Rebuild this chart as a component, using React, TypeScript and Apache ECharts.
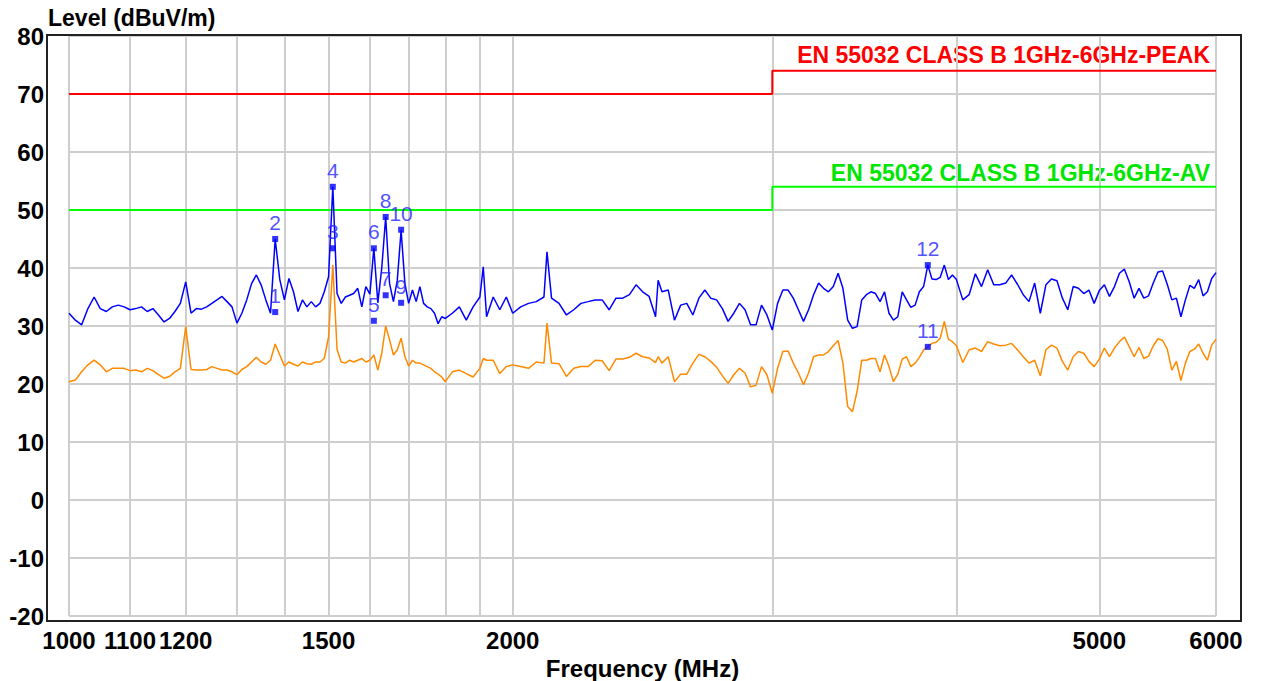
import React, { useEffect, useRef } from "react";
import * as echarts from "echarts";

// Scan frequencies (MHz)
const freqs = [
  1000, 1010, 1020, 1030, 1040, 1050, 1060, 1070, 1080, 1090,
  1100, 1110, 1120, 1130, 1140, 1150, 1160, 1170, 1180, 1190,
  1200, 1210, 1220, 1230, 1240, 1250, 1260, 1270, 1280, 1290,
  1300, 1310, 1320, 1330, 1340, 1350, 1360, 1370, 1380, 1390,
  1400, 1410, 1420, 1430, 1440, 1450, 1460, 1470, 1480, 1490,
  1500, 1510, 1520, 1530, 1540, 1550, 1560, 1570, 1580, 1590,
  1600, 1610, 1620, 1630, 1640, 1650, 1660, 1670, 1680, 1690,
  1700, 1710, 1720, 1730, 1740, 1750, 1760, 1770, 1780, 1790,
  1800, 1820, 1840, 1860, 1880, 1900, 1910, 1920, 1940, 1960,
  1980, 2000, 2025, 2050, 2075, 2100, 2110, 2125, 2150, 2175,
  2200, 2225, 2250, 2275, 2300, 2325, 2350, 2375, 2400, 2425,
  2450, 2475, 2500, 2510, 2525, 2550, 2575, 2600, 2625, 2650,
  2675, 2700, 2725, 2750, 2775, 2800, 2825, 2850, 2875, 2900,
  2925, 2950, 2975, 3000, 3025, 3050, 3075, 3100, 3125, 3150,
  3175, 3200, 3225, 3250, 3275, 3300, 3325, 3350, 3375, 3400,
  3425, 3450, 3475, 3500, 3525, 3550, 3575, 3600, 3625, 3650,
  3675, 3700, 3725, 3750, 3775, 3800, 3825, 3850, 3875, 3900,
  3925, 3950, 3975, 4000, 4040, 4080, 4120, 4160, 4200, 4240,
  4280, 4320, 4360, 4400, 4440, 4480, 4520, 4560, 4600, 4640,
  4680, 4720, 4760, 4800, 4840, 4880, 4920, 4960, 5000, 5040,
  5080, 5120, 5160, 5200, 5240, 5280, 5320, 5360, 5400, 5440,
  5480, 5520, 5560, 5600, 5640, 5680, 5720, 5760, 5800, 5840,
  5880, 5920, 5960, 6000,
];

// Peak trace (dBuV/m)
const peakLevels = [
  32.2, 31.0, 30.2, 33.0, 35.0, 33.0, 32.5, 33.3, 33.6, 33.3,
  32.8, 33.0, 33.3, 32.5, 33.0, 31.9, 30.7, 31.3, 32.5, 33.9,
  37.6, 32.2, 33.0, 32.9, 33.3, 33.9, 34.5, 35.1, 34.2, 33.3,
  30.5, 32.2, 34.5, 37.3, 38.8, 37.1, 34.5, 32.2, 45.0, 38.0,
  34.5, 38.2, 35.9, 32.5, 34.5, 33.3, 34.2, 33.3, 33.9, 35.9,
  38.5, 54.0, 35.6, 33.9, 35.0, 35.3, 35.6, 36.5, 33.3, 36.8,
  35.5, 43.4, 34.0, 40.0, 48.8, 37.3, 34.2, 37.9, 46.5, 37.3,
  33.9, 36.2, 34.2, 36.8, 33.9, 33.3, 33.0, 32.2, 30.4, 31.6,
  31.3, 32.2, 33.3, 31.0, 33.3, 35.0, 40.2, 31.6, 35.0, 32.8,
  35.0, 32.2, 33.3, 33.9, 34.2, 35.0, 42.8, 34.8, 33.9, 31.9,
  32.8, 33.9, 34.2, 34.5, 34.5, 32.8, 34.8, 34.8, 35.4, 37.1,
  35.9, 35.1, 31.6, 37.9, 35.9, 36.2, 31.0, 33.6, 33.9, 31.9,
  34.8, 36.2, 34.8, 34.5, 33.0, 30.8, 32.2, 33.9, 32.8, 30.2,
  30.2, 33.6, 31.9, 29.3, 33.9, 36.2, 36.2, 34.8, 32.8, 30.8,
  32.8, 35.4, 37.4, 36.5, 35.9, 36.8, 39.1, 36.5, 31.0, 29.6,
  29.9, 34.5, 35.4, 35.9, 35.6, 34.2, 35.9, 32.2, 31.0, 31.6,
  35.9, 34.5, 33.2, 33.6, 35.9, 36.8, 40.5, 38.1, 38.0, 38.4,
  40.5, 38.0, 38.8, 38.0, 34.5, 35.4, 39.0, 36.8, 39.7, 37.1,
  37.1, 37.4, 38.8, 37.2, 35.4, 34.2, 37.4, 32.2, 37.1, 38.1,
  37.8, 34.8, 32.8, 36.8, 36.5, 35.6, 36.2, 33.9, 36.1, 37.1,
  35.1, 36.8, 39.1, 39.8, 37.6, 34.8, 36.5, 34.8, 35.2, 37.4,
  39.3, 39.5, 37.2, 34.5, 34.8, 31.6, 34.5, 37.0, 36.5, 38.0,
  35.2, 35.9, 38.2, 39.2,
];

// Average trace (dBuV/m)
const avgLevels = [
  20.4, 20.7, 22.1, 23.3, 24.1, 23.3, 22.1, 22.7, 22.7, 22.7,
  22.3, 22.4, 22.1, 22.7, 22.3, 21.6, 21.0, 21.3, 22.1, 22.7,
  29.9, 22.5, 22.4, 22.4, 22.5, 23.0, 22.7, 22.4, 22.4, 22.1,
  21.6, 22.5, 23.0, 23.8, 24.6, 23.8, 23.4, 24.1, 26.9, 25.0,
  23.1, 23.8, 23.4, 23.1, 23.8, 23.5, 23.4, 23.8, 23.8, 24.4,
  28.1, 40.5, 26.0, 23.8, 23.6, 24.1, 23.8, 24.1, 24.4, 23.8,
  24.1, 25.0, 22.4, 25.3, 30.0, 27.6, 25.0, 25.9, 27.9, 24.7,
  23.1, 24.1, 23.6, 23.6, 23.3, 23.0, 22.7, 22.1, 21.7, 21.2,
  20.4, 22.1, 22.4, 21.8, 21.2, 22.7, 24.4, 24.1, 24.1, 21.8,
  23.0, 23.3, 23.0, 22.7, 23.8, 23.6, 30.5, 23.6, 23.5, 21.3,
  22.7, 23.0, 23.0, 24.1, 24.0, 22.3, 24.3, 24.3, 24.6, 25.3,
  24.7, 24.5, 23.7, 24.7, 23.6, 24.7, 20.4, 21.7, 21.7, 23.6,
  25.1, 24.7, 23.9, 22.9, 21.4, 20.1, 21.6, 22.7, 21.9, 19.5,
  19.8, 23.0, 21.6, 18.4, 22.7, 25.6, 25.7, 23.6, 21.9, 19.9,
  21.9, 24.7, 25.0, 25.0, 25.6, 26.6, 27.5, 23.6, 16.1, 15.2,
  18.7, 24.1, 24.1, 24.4, 24.4, 22.1, 25.0, 23.0, 20.4, 21.7,
  24.3, 24.7, 23.0, 23.6, 24.6, 25.9, 26.4, 27.0, 27.2, 27.9,
  30.8, 27.7, 27.3, 26.6, 23.7, 25.9, 26.2, 25.6, 27.3, 26.9,
  26.6, 26.7, 27.0, 25.9, 24.7, 23.6, 24.1, 21.4, 25.9, 26.7,
  26.2, 23.9, 22.4, 24.7, 25.6, 25.3, 23.9, 23.0, 24.3, 26.2,
  24.7, 26.2, 27.3, 28.1, 26.4, 24.7, 26.3, 24.4, 24.8, 26.6,
  27.8, 27.5, 26.0, 22.4, 23.9, 20.6, 23.6, 25.6, 26.0, 26.9,
  25.3, 24.1, 26.7, 27.7,
];

// Limit lines
const limitFreqs = [1000, 3000, 3000, 6000];
const peakLimitLevels = [70, 70, 74, 74];
const avgLimitLevels = [50, 50, 54, 54];
const peakLimitName = "EN 55032 CLASS B 1GHz-6GHz-PEAK";
const avgLimitName = "EN 55032 CLASS B 1GHz-6GHz-AV";

// Markers
const markerNos = ["1", "2", "3", "4", "5", "6", "7", "8", "9", "10", "11", "12"];
const markerFreqs = [1380, 1380, 1510, 1510, 1610, 1610, 1640, 1640, 1680, 1680, 3825, 3825];
const markerLevels = [32.4, 45.0, 43.4, 54.0, 30.9, 43.4, 35.3, 48.8, 34.0, 46.6, 26.4, 40.5];

// Axes
const xGridValues = [1000, 1100, 1200, 1300, 1400, 1500, 1600, 1700, 1800, 1900, 2000, 3000, 4000, 5000, 6000];
const xLabelValues = [1000, 1100, 1200, 1500, 2000, 5000, 6000];
const yMin = -20;
const yMax = 80;
const yStep = 10;

const FONT = "Arial, 'Liberation Sans', sans-serif";

export default function App() {
  const ref = useRef<HTMLDivElement>(null);

  useEffect(() => {
    if (!ref.current) return;
    const chart = echarts.init(ref.current, undefined, { renderer: "svg" });

    const zip = (xs: number[], ys: number[]) => xs.map((x, i) => [x, ys[i]]);

    chart.setOption({
      animation: false,
      backgroundColor: "#ffffff",
      grid: {
        left: 69,
        right: 46,
        top: 36,
        bottom: 65,
        containLabel: false,
        outerBoundsMode: "none",
      },
      xAxis: {
        type: "log",
        logBase: 10,
        min: 1000,
        max: 6000,
        axisLine: { show: false },
        axisTick: { show: false, customValues: xGridValues },
        axisLabel: {
          customValues: xLabelValues,
          formatter: (v: number) => String(Math.round(v)),
          fontSize: 24,
          fontWeight: "bold",
          color: "#000",
          fontFamily: FONT,
          margin: 12,
          hideOverlap: false,
        },
        splitLine: { show: true, lineStyle: { color: "#cecece", width: 2 } },
        name: "Frequency (MHz)",
        nameLocation: "middle",
        nameGap: 32,
        nameTextStyle: { fontSize: 24, fontWeight: "bold", color: "#000", fontFamily: FONT },
      },
      yAxis: {
        type: "value",
        min: yMin,
        max: yMax,
        interval: yStep,
        axisLine: { show: false },
        axisTick: { show: false },
        axisLabel: {
          fontSize: 24,
          fontWeight: "bold",
          color: "#000",
          fontFamily: FONT,
          margin: 25,
        },
        splitLine: { show: true, lineStyle: { color: "#cecece", width: 2 } },
      },
      graphic: [
        {
          type: "rect",
          shape: { x: 47, y: 35, width: 1194, height: 586 },
          style: { fill: "none", stroke: "#222", lineWidth: 2 },
          z: 100,
          silent: true,
        },
        {
          type: "text",
          x: 48,
          y: 18,
          style: {
            text: "Level (dBuV/m)",
            font: `bold 23px ${FONT}`,
            fill: "#000",
            verticalAlign: "middle",
            align: "left",
          },
        },
        {
          type: "text",
          x: 1210,
          y: 55,
          style: {
            text: peakLimitName,
            font: `bold 23px ${FONT}`,
            fill: "#ff0000",
            align: "right",
            verticalAlign: "middle",
          },
        },
        {
          type: "text",
          x: 1210,
          y: 173,
          style: {
            text: avgLimitName,
            font: `bold 23px ${FONT}`,
            fill: "#00e600",
            align: "right",
            verticalAlign: "middle",
          },
        },
      ],
      series: [
        {
          name: peakLimitName,
          type: "line",
          data: zip(limitFreqs, peakLimitLevels),
          symbol: "none",
          lineStyle: { color: "#ff0000", width: 2 },
          z: 2,
        },
        {
          name: avgLimitName,
          type: "line",
          data: zip(limitFreqs, avgLimitLevels),
          symbol: "none",
          lineStyle: { color: "#00ff00", width: 2 },
          z: 2,
        },
        {
          name: "Peak",
          type: "line",
          data: zip(freqs, peakLevels),
          symbol: "none",
          lineStyle: { color: "#0000ff", width: 1.5 },
          z: 3,
        },
        {
          name: "AV",
          type: "line",
          data: zip(freqs, avgLevels),
          symbol: "none",
          lineStyle: { color: "#ff8a00", width: 1.5 },
          z: 4,
        },
        {
          name: "Markers",
          type: "scatter",
          data: markerFreqs.map((f, i) => [f, markerLevels[i], markerNos[i]]),
          symbol: "rect",
          symbolSize: 6,
          itemStyle: { color: "#0000ff" },
          label: {
            show: true,
            position: "top",
            distance: 3,
            formatter: (p: any) => p.value[2],
            fontSize: 21,
            color: "#2424ff",
            fontFamily: FONT,
          },
          z: 5,
        },
      ],
    });

    return () => chart.dispose();
  }, []);

  return (
    <div
      ref={ref}
      style={{ position: "fixed", left: 0, top: 0, width: 1262, height: 681, background: "#fff" }}
    />
  );
}
